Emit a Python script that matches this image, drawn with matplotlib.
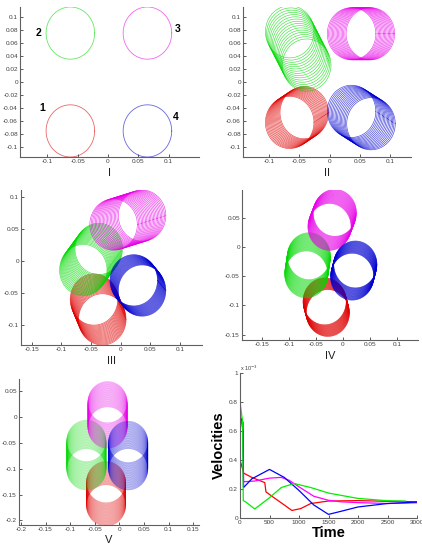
import numpy as np
import matplotlib.pyplot as plt

plt.rcParams['font.family'] = ['Liberation Sans', 'DejaVu Sans']

W, H = 422, 544
fig = plt.figure(figsize=(W / 100, H / 100), dpi=100)

# ---------------- data ----------------
# body order: 1 red, 2 green, 3 magenta, 4 blue
body_colors = ['#e00000', '#00d800', '#e800e8', '#0000d0']
radius = 0.04

# Panel I : initial positions
p1_centers = [(-0.062, -0.075), (-0.062, 0.075), (0.065, 0.075), (0.065, -0.075)]
p1_labels = ['1', '2', '3', '4']
p1_label_pos = [(-0.108, -0.040), (-0.115, 0.075), (0.115, 0.082), (0.111, -0.054)]

# Panels II-V : first and last centre of each body's circle sequence
p2_start = [(-0.066, -0.062), (-0.066, 0.077), (0.067, 0.074), (0.068, -0.064)]
p2_end = [(-0.042, -0.047), (-0.038, 0.026), (0.036, 0.074), (0.036, -0.045)]
p2_count = 16

p3_start = [(-0.045, -0.060), (-0.037, 0.019), (0.036, 0.071), (0.022, -0.030)]
p3_end = [(-0.031, -0.091), (-0.063, -0.014), (-0.012, 0.057), (0.036, -0.046)]
p3_count = 22

p4_start = [(-0.034, -0.093), (-0.063, -0.016), (-0.015, 0.058), (0.023, -0.030)]
p4_end = [(-0.028, -0.113), (-0.068, -0.047), (-0.025, 0.034), (0.017, -0.051)]
p4_count = 30

p5_start = [(-0.027, -0.126), (-0.067, -0.046), (-0.024, 0.029), (0.018, -0.048)]
p5_end = [(-0.027, -0.171), (-0.067, -0.101), (-0.024, -0.020), (0.018, -0.101)]
p5_count = 40

# Panel VI : velocities (x 1e-3)
red_t = [0, 50, 60, 200, 420, 440, 600, 750, 880, 1030, 1200, 1500, 2000, 2500, 3000]
red_v = [0.40, 0.33, 0.31, 0.28, 0.244, 0.18, 0.133, 0.09, 0.052, 0.065, 0.10, 0.117, 0.12, 0.115, 0.112]
green_t = [0, 45, 55, 100, 250, 500, 700, 917, 1200, 1500, 2000, 2500, 2800]
green_v = [0.80, 0.66, 0.12, 0.11, 0.062, 0.14, 0.21, 0.238, 0.21, 0.172, 0.135, 0.119, 0.117]
magenta_t = [0, 50, 60, 250, 500, 700, 833, 1000, 1250, 1500, 1700, 2000, 2500, 3000]
magenta_v = [0.72, 0.60, 0.25, 0.255, 0.275, 0.28, 0.26, 0.215, 0.15, 0.122, 0.112, 0.106, 0.10, 0.105]
blue_t = [0, 50, 60, 200, 500, 750, 1000, 1250, 1500, 1700, 2000, 2500, 3000]
blue_v = [0.70, 0.66, 0.21, 0.27, 0.335, 0.28, 0.19, 0.09, 0.025, 0.045, 0.076, 0.10, 0.11]

# ---------------- helpers ----------------
def make_ax(l, t, r, b):
    ax = fig.add_axes([l / W, 1 - b / H, (r - l) / W, (b - t) / H])
    ax.set_facecolor('none')
    for s in ['top', 'right']:
        ax.spines[s].set_visible(False)
    for s in ['left', 'bottom']:
        ax.spines[s].set_color('#606060')
        ax.spines[s].set_linewidth(0.8)
    ax.tick_params(direction='in', length=2, width=0.6, labelsize=4.6,
                   colors='#404040', pad=1.5)
    return ax

theta = np.linspace(0, 2 * np.pi, 120)

def circle(ax, c, color, lw=0.5, alpha=0.8):
    ax.plot(c[0] + radius * np.cos(theta), c[1] + radius * np.sin(theta),
            color=color, lw=lw, alpha=alpha)

def tube(ax, starts, ends, n, lw=0.45, alpha=0.75):
    for s, e, col in zip(starts, ends, body_colors):
        for f in np.linspace(0, 1, n):
            circle(ax, (s[0] + f * (e[0] - s[0]), s[1] + f * (e[1] - s[1])), col, lw, alpha)

def fmt(v):
    if abs(v) < 1e-9:
        return '0'
    return ('%g' % v)

def set_ticks(ax, xt, yt):
    ax.set_xticks(xt)
    ax.set_xticklabels([fmt(v) for v in xt])
    ax.set_yticks(yt)
    ax.set_yticklabels([fmt(v) for v in yt])

label_kw = dict(fontsize=8, color='#202020')

# ---------------- Panel I ----------------
ax1 = make_ax(20, 7, 199, 157)
for c, col in zip(p1_centers, body_colors):
    circle(ax1, c, col, lw=0.6, alpha=0.6)
for lab, pos in zip(p1_labels, p1_label_pos):
    ax1.text(pos[0], pos[1], lab, fontsize=7.5, fontweight='bold', ha='center', va='center')
ax1.set_xlim(-0.145, 0.15)
ax1.set_ylim(-0.115, 0.115)
set_ticks(ax1, [-0.1, -0.05, 0, 0.05, 0.1], np.round(np.arange(-0.1, 0.1001, 0.02), 2))
ax1.set_xlabel('I', labelpad=3, **label_kw)

# ---------------- Panel II ----------------
ax2 = make_ax(243, 7, 411, 157)
tube(ax2, p2_start, p2_end, p2_count)
ax2.set_xlim(-0.143, 0.134)
ax2.set_ylim(-0.115, 0.115)
set_ticks(ax2, [-0.1, -0.05, 0, 0.05, 0.1], np.round(np.arange(-0.1, 0.1001, 0.02), 2))
ax2.set_xlabel('II', labelpad=3, **label_kw)

# ---------------- Panel III ----------------
ax3 = make_ax(21, 190, 202, 345)
tube(ax3, p3_start, p3_end, p3_count)
ax3.set_xlim(-0.168, 0.137)
ax3.set_ylim(-0.131, 0.111)
set_ticks(ax3, [-0.15, -0.1, -0.05, 0, 0.05, 0.1], [-0.1, -0.05, 0, 0.05, 0.1])
ax3.set_xlabel('III', labelpad=3, **label_kw)

# ---------------- Panel IV ----------------
ax4 = make_ax(242, 190, 418, 340)
tube(ax4, p4_start, p4_end, p4_count, lw=0.4, alpha=0.7)
ax4.set_xlim(-0.187, 0.139)
ax4.set_ylim(-0.159, 0.097)
set_ticks(ax4, [-0.15, -0.1, -0.05, 0, 0.05, 0.1], [-0.15, -0.1, -0.05, 0, 0.05])
ax4.set_xlabel('IV', labelpad=3, **label_kw)

# ---------------- Panel V ----------------
ax5 = make_ax(19, 379, 199, 525)
tube(ax5, p5_start, p5_end, p5_count, lw=0.35, alpha=0.45)
ax5.set_xlim(-0.204, 0.162)
ax5.set_ylim(-0.209, 0.074)
set_ticks(ax5, [-0.2, -0.15, -0.1, -0.05, 0, 0.05, 0.1, 0.15], [-0.2, -0.15, -0.1, -0.05, 0, 0.05])
ax5.set_xlabel('V', labelpad=2, **label_kw)

# ---------------- Panel VI ----------------
ax6 = make_ax(240, 373, 417, 518)
ax6.plot(red_t, red_v, color='#ff0000', lw=0.9)
ax6.plot(magenta_t, magenta_v, color='#ff00ff', lw=0.9)
ax6.plot(blue_t, blue_v, color='#0000ff', lw=0.9)
ax6.plot(green_t, green_v, color='#00ee00', lw=0.9)
ax6.set_xlim(0, 3000)
ax6.set_ylim(0, 1)
set_ticks(ax6, [0, 500, 1000, 1500, 2000, 2500, 3000], [0, 0.2, 0.4, 0.6, 0.8, 1])
ax6.text(0.0, 1.015, r'x 10$^{-3}$', transform=ax6.transAxes, fontsize=4, color='#404040')
ax6.set_xlabel('Time', fontsize=10.5, fontweight='bold', labelpad=1)
ax6.set_ylabel('Velocities', fontsize=10.5, fontweight='bold', labelpad=2)

fig.savefig('out.png', dpi=100)
